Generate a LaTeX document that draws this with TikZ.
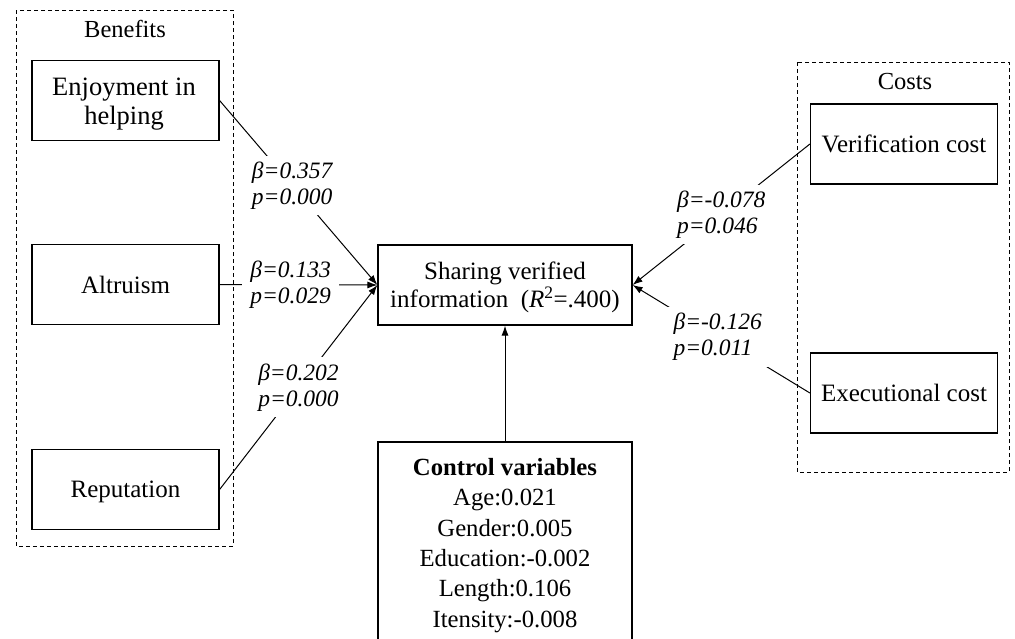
\documentclass[tikz,border=0pt]{standalone}
\usepackage{fontspec}
\setmainfont{Liberation Serif}
\usetikzlibrary{arrows.meta}
\begin{document}
\begin{tikzpicture}[x=1pt,y=-1pt,
 box/.style={draw,line width=1.2pt,minimum width=187pt,minimum height=80pt,align=center,inner sep=0pt,font=\fontsize{25}{29}\selectfont},
 boxtext/.style={align=center,inner sep=0pt,font=\fontsize{26.5}{29}\selectfont},
 grp/.style={line width=0.9pt,dash pattern=on 4pt off 3pt},
 grplab/.style={font=\fontsize{24.5}{29}\selectfont},
 lab/.style={fill=white,align=left,inner xsep=8pt,inner ysep=6pt,font=\fontsize{23.5}{26}\selectfont\itshape},
 conn/.style={line width=1pt,-{Latex[length=10pt,width=7pt]}}]
\clip (0,0) rectangle (1015,638);
\useasboundingbox (0,0) rectangle (1015,638);
% groups
\draw[grp] (16,10) rectangle (233,546);
\node[grplab] (bentitle) at (125,29) {Benefits};
\draw[grp] (797,62) rectangle (1009,472);
\node[grplab] (costtitle) at (905,82) {Costs};
% boxes
\node[box] (enj) at (125.5,100.5) {};
\node[boxtext] (enjtext) at (124,104) {Enjoyment in\\helping};
\node[box] (alt) at (125.5,284.5) {Altruism};
\node[box] (rep) at (125.5,489.5) {};
\node[boxtext,font=\fontsize{25}{29}\selectfont] (reptext) at (125.5,491.5) {Reputation};
\node[box] (ver) at (904,144) {Verification cost};
\node[box] (exe) at (904,393) {Executional cost};
\node[box,minimum width=254pt] (sha) at (505,285) {};
\node[boxtext,font=\fontsize{25}{28}\selectfont] (shatext) at (505,287) {Sharing verified\\information\ \ (\textit{R}\textsuperscript{2}=.400)};
% control box (continues below the picture)
\draw[line width=1.2pt] (378,680) -- (378,442) -- (632,442) -- (632,680);
\node[anchor=north,align=center,inner xsep=0pt,inner ysep=16pt,minimum width=254pt,font=\fontsize{24.7}{30.4}\selectfont] (ctl) at (505,442)
 {\textbf{Control variables}\\Age:0.021\\Gender:0.005\\Education:-0.002\\Length:0.106\\Itensity:-0.008};
% connectors
\draw[conn] (enj.east) -- node[lab,pos=.46] (l1) {β=0.357\\p=0.000} (sha.west);
\draw[conn] (alt.east) -- node[lab,pos=.45] (l2) {β=0.133\\p=0.029} (sha.west);
\draw[conn] (rep.east) -- node[lab,pos=.5] (l3) {β=0.202\\p=0.000} (sha.west);
\draw[conn] (ver.west) -- node[lab,pos=.5] (l4) {β=-0.078\\p=0.046} (sha.east);
\draw[conn] (exe.west) -- node[lab,pos=.52] (l5) {β=-0.126\\p=0.011} (sha.east);
\draw[conn] (ctl.north) -- (sha.south);
\end{tikzpicture}
\end{document}
